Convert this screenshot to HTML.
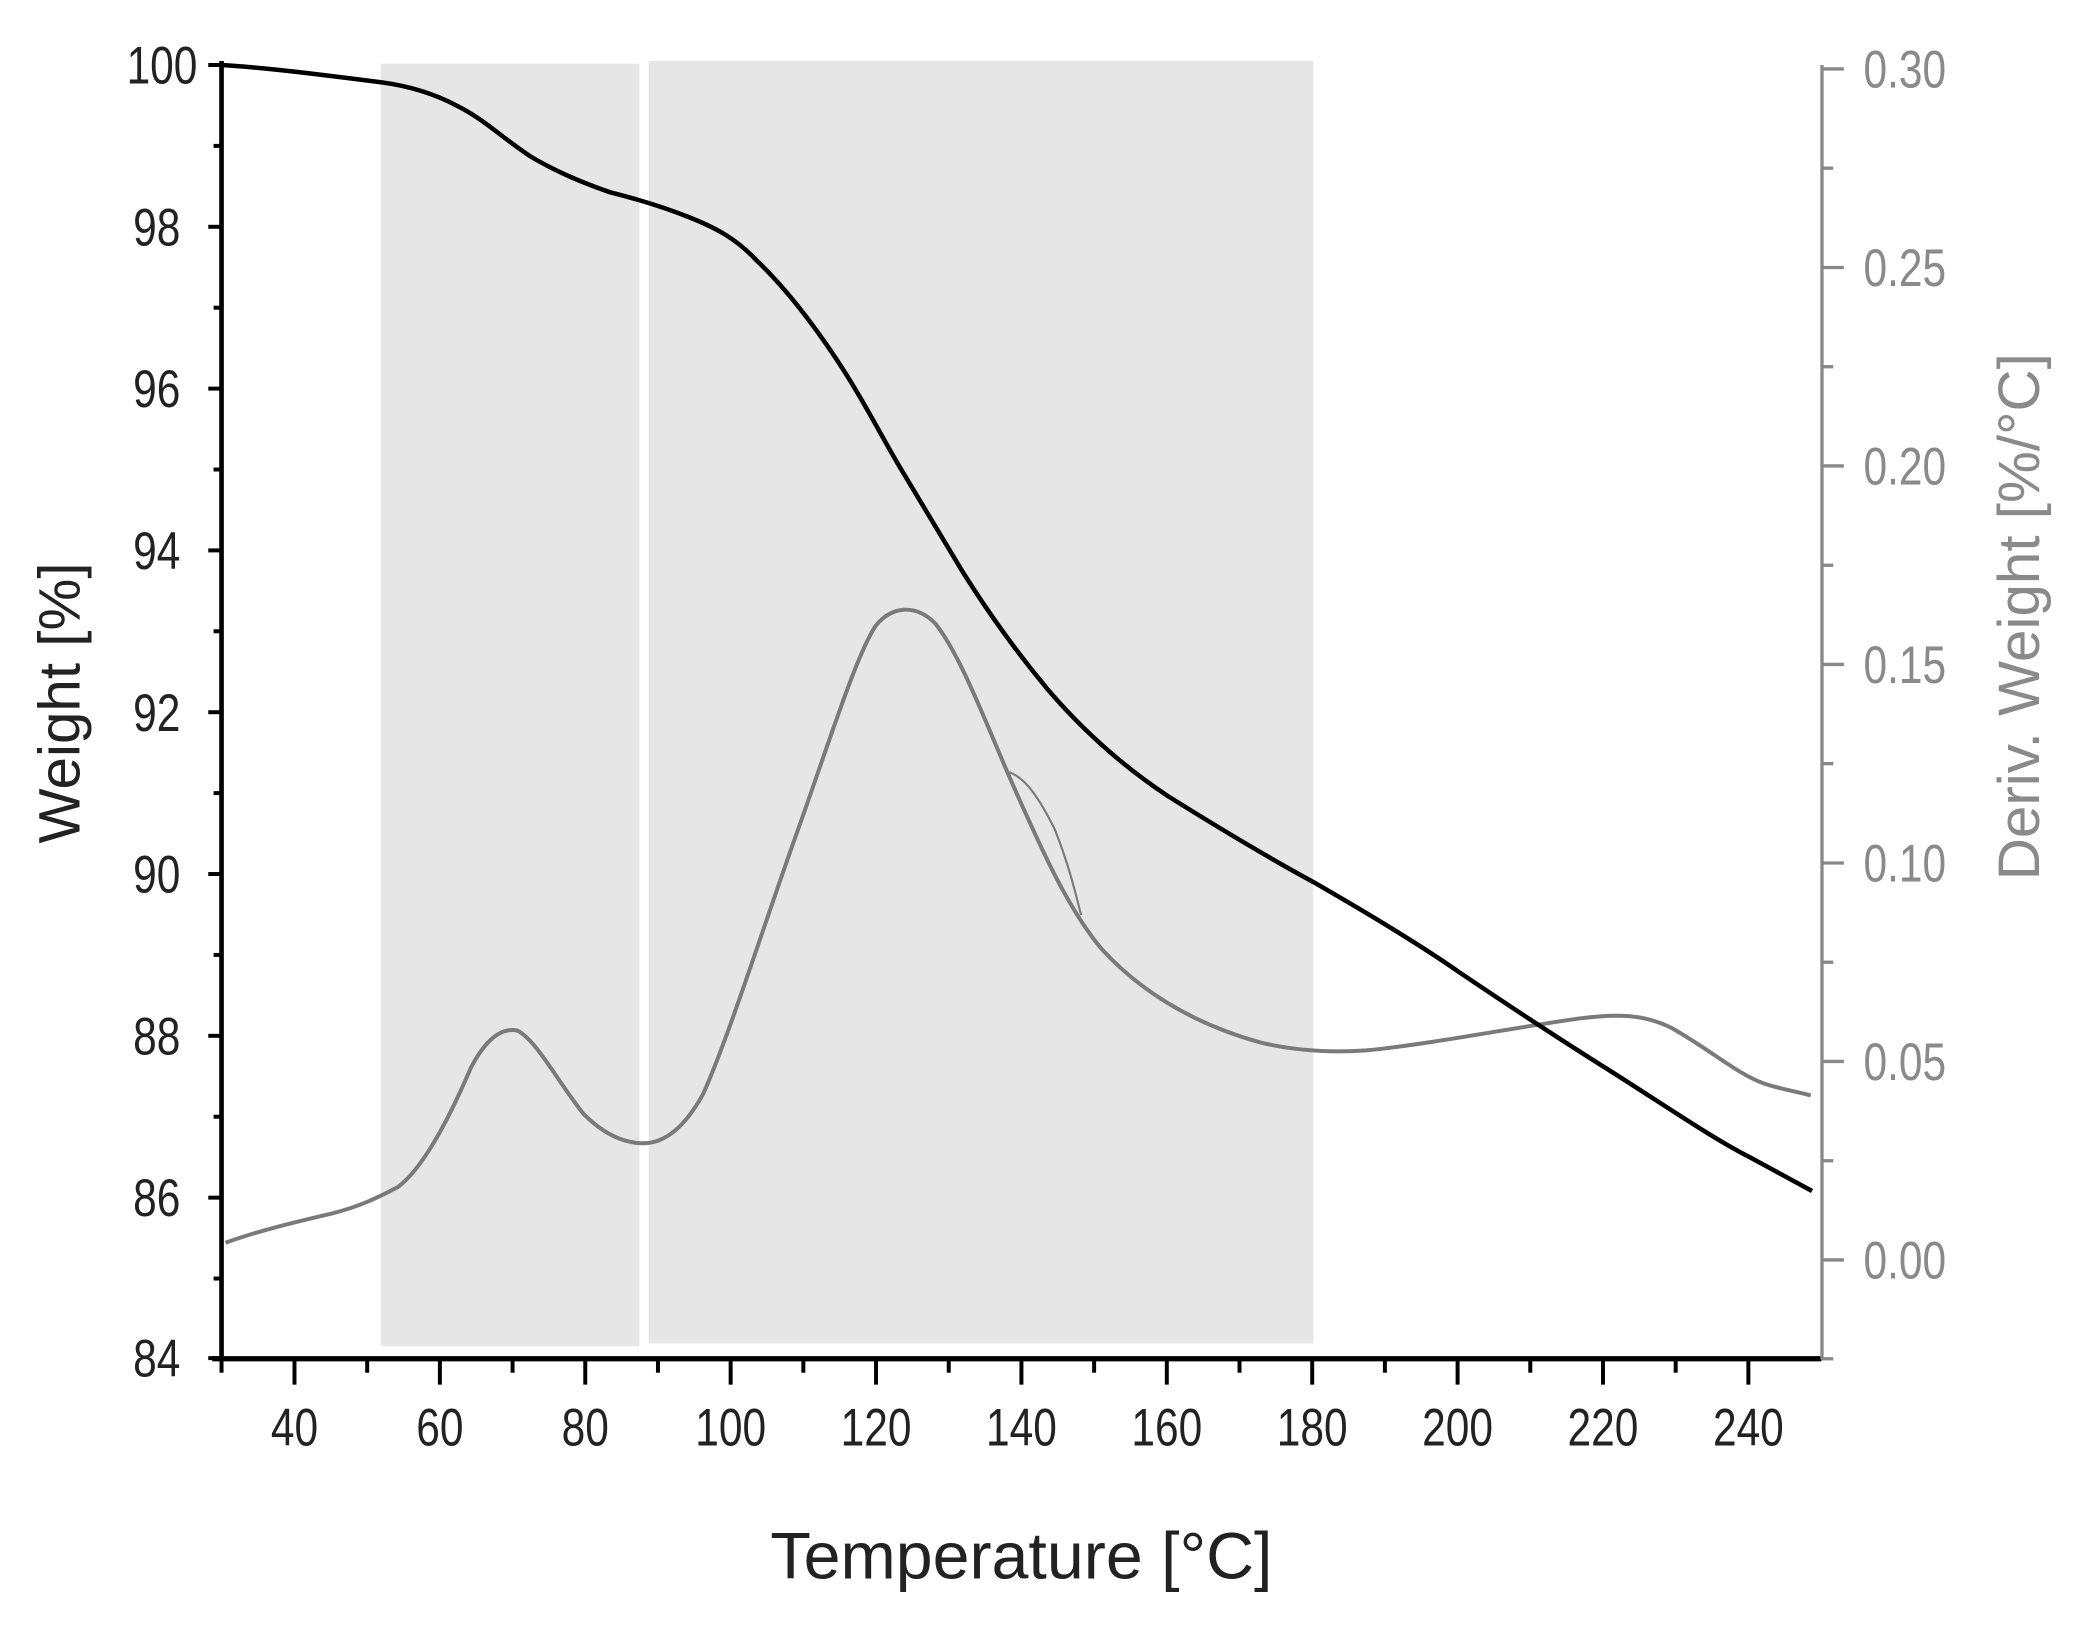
<!DOCTYPE html>
<html><head><meta charset="utf-8"><style>
html,body{margin:0;padding:0;background:#fff;}
svg{display:block;}
text{font-family:"Liberation Sans",sans-serif;}
</style></head><body>
<svg width="2080" height="1630" viewBox="0 0 1568 1229" preserveAspectRatio="none" xmlns="http://www.w3.org/2000/svg">
<rect x="0" y="0" width="1568" height="1229" fill="#fff"/>
<rect x="287" y="48" width="195" height="967" fill="#e6e6e6"/>
<rect x="489" y="46" width="501" height="967" fill="#e6e6e6"/>

<!-- deriv curve -->
<path d="M170,937 C195,928 220,922 250,915 C270,910 285,903 300,895 C320,880 340,840 355,805 C368,780 380,775 390,777 C405,785 420,815 440,840 C455,855 470,862 485,862 C500,862 515,852 530,825 C550,780 575,700 600,630 C625,560 645,495 660,472 C672,457 690,455 705,470 C725,495 745,550 765,595 C785,640 805,685 830,715 C860,748 900,772 950,786 C975,792 1000,794 1030,792 C1080,787 1140,775 1190,768 C1220,764 1240,765 1260,775 C1290,792 1310,810 1330,817 C1345,822 1355,823 1365,826" fill="none" stroke="#7a7a7a" stroke-width="3"/>
<path d="M760,582 C770,585 780,595 795,625 C805,650 810,670 815,690" fill="none" stroke="#7a7a7a" stroke-width="1.6"/>

<!-- weight curve -->
<path d="M167,49 C200,51 240,56 287,62 C310,65 330,72 345,80 C365,90 380,105 400,118 C420,130 440,138 460,145 C480,150 500,156 520,164 C540,172 555,180 570,196 C590,215 610,240 630,270 C650,300 665,330 680,355 C695,380 710,405 725,430 C745,462 765,490 790,520 C820,555 850,580 880,600 C920,625 955,646 990,665 C1030,688 1070,712 1100,733 C1140,760 1175,783 1210,805 C1250,830 1290,858 1320,873 C1340,884 1355,892 1366,898" fill="none" stroke="#000" stroke-width="3.4"/>

<!-- axes -->
<line x1="167" y1="46" x2="167" y2="1026" stroke="#000" stroke-width="3.5"/>
<line x1="160" y1="1024.5" x2="1373" y2="1024.5" stroke="#000" stroke-width="4"/>
<line x1="1373.5" y1="49" x2="1373.5" y2="1025" stroke="#888" stroke-width="2.5"/>

<g stroke="#000" stroke-width="3">
<line x1="222" y1="1025" x2="222" y2="1044"/><line x1="331.6" y1="1025" x2="331.6" y2="1044"/><line x1="441.2" y1="1025" x2="441.2" y2="1044"/><line x1="550.8" y1="1025" x2="550.8" y2="1044"/><line x1="660.4" y1="1025" x2="660.4" y2="1044"/><line x1="770" y1="1025" x2="770" y2="1044"/><line x1="879.6" y1="1025" x2="879.6" y2="1044"/><line x1="989.2" y1="1025" x2="989.2" y2="1044"/><line x1="1098.8" y1="1025" x2="1098.8" y2="1044"/><line x1="1208.4" y1="1025" x2="1208.4" y2="1044"/><line x1="1318" y1="1025" x2="1318" y2="1044"/>
<line x1="167" y1="1025" x2="167" y2="1035"/><line x1="276.8" y1="1025" x2="276.8" y2="1035"/><line x1="386.4" y1="1025" x2="386.4" y2="1035"/><line x1="496" y1="1025" x2="496" y2="1035"/><line x1="605.6" y1="1025" x2="605.6" y2="1035"/><line x1="715.2" y1="1025" x2="715.2" y2="1035"/><line x1="824.8" y1="1025" x2="824.8" y2="1035"/><line x1="934.4" y1="1025" x2="934.4" y2="1035"/><line x1="1044" y1="1025" x2="1044" y2="1035"/><line x1="1153.6" y1="1025" x2="1153.6" y2="1035"/><line x1="1263.2" y1="1025" x2="1263.2" y2="1035"/>
<line x1="157" y1="49" x2="167" y2="49"/><line x1="157" y1="171" x2="167" y2="171"/><line x1="157" y1="293" x2="167" y2="293"/><line x1="157" y1="415" x2="167" y2="415"/><line x1="157" y1="537" x2="167" y2="537"/><line x1="157" y1="659" x2="167" y2="659"/><line x1="157" y1="781" x2="167" y2="781"/><line x1="157" y1="903" x2="167" y2="903"/><line x1="157" y1="1024" x2="167" y2="1024"/>
<line x1="161" y1="110" x2="167" y2="110"/><line x1="161" y1="232" x2="167" y2="232"/><line x1="161" y1="354" x2="167" y2="354"/><line x1="161" y1="476" x2="167" y2="476"/><line x1="161" y1="598" x2="167" y2="598"/><line x1="161" y1="720" x2="167" y2="720"/><line x1="161" y1="842" x2="167" y2="842"/><line x1="161" y1="964" x2="167" y2="964"/>
</g>
<g stroke="#888" stroke-width="2.5">
<line x1="1373" y1="52" x2="1390" y2="52"/><line x1="1373" y1="201.7" x2="1390" y2="201.7"/><line x1="1373" y1="351.3" x2="1390" y2="351.3"/><line x1="1373" y1="501" x2="1390" y2="501"/><line x1="1373" y1="650.7" x2="1390" y2="650.7"/><line x1="1373" y1="800.3" x2="1390" y2="800.3"/><line x1="1373" y1="950" x2="1390" y2="950"/>
<line x1="1373" y1="126.8" x2="1382" y2="126.8"/><line x1="1373" y1="276.5" x2="1382" y2="276.5"/><line x1="1373" y1="426.2" x2="1382" y2="426.2"/><line x1="1373" y1="575.8" x2="1382" y2="575.8"/><line x1="1373" y1="725.5" x2="1382" y2="725.5"/><line x1="1373" y1="875.2" x2="1382" y2="875.2"/><line x1="1373" y1="1024.5" x2="1382" y2="1024.5"/>
</g>

<g font-size="40" fill="#222" text-anchor="middle" transform="scale(0.8,1)">
<text x="277.5" y="1090">40</text><text x="414.5" y="1090">60</text><text x="551.5" y="1090">80</text><text x="688.5" y="1090">100</text><text x="825.5" y="1090">120</text><text x="962.5" y="1090">140</text><text x="1099.5" y="1090">160</text><text x="1236.5" y="1090">180</text><text x="1373.5" y="1090">200</text><text x="1510.5" y="1090">220</text><text x="1647.5" y="1090">240</text>
</g>
<g font-size="40" fill="#222" text-anchor="end" transform="scale(0.8,1)">
<text x="186" y="63">100</text><text x="170" y="185">98</text><text x="170" y="307">96</text><text x="170" y="429">94</text><text x="170" y="551">92</text><text x="170" y="673">90</text><text x="170" y="795">88</text><text x="170" y="917">86</text><text x="170" y="1038">84</text>
</g>
<g font-size="40" fill="#8a8a8a" text-anchor="start" transform="scale(0.8,1)">
<text x="1756" y="66">0.30</text><text x="1756" y="215.7">0.25</text><text x="1756" y="365.3">0.20</text><text x="1756" y="515">0.15</text><text x="1756" y="664.7">0.10</text><text x="1756" y="814.3">0.05</text><text x="1756" y="964">0.00</text>
</g>
<text x="770" y="1190" font-size="50" text-anchor="middle" fill="#222">Temperature [°C]</text>
<text transform="translate(60,530) rotate(-90)" font-size="44" text-anchor="middle" fill="#222">Weight [%]</text>
<text transform="translate(1537,465) rotate(-90)" font-size="44" text-anchor="middle" fill="#8a8a8a">Deriv. Weight [%/°C]</text>
</svg>
</body></html>
